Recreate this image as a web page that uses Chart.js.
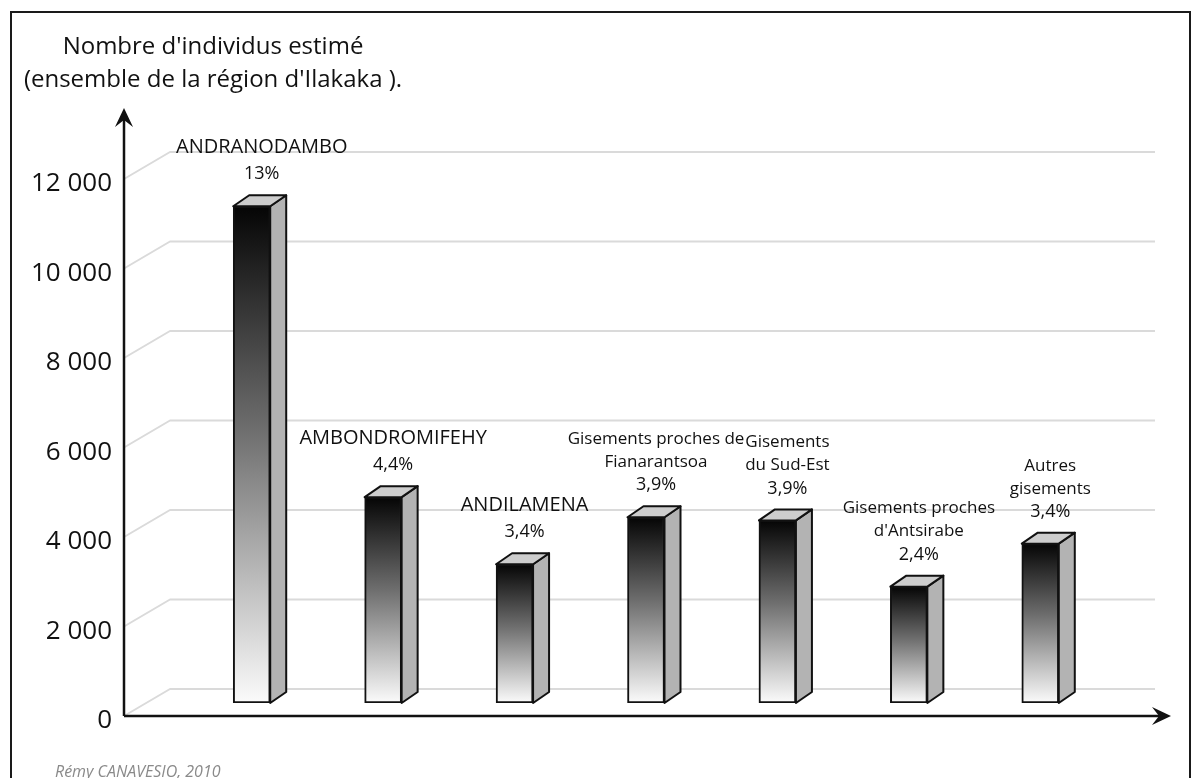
<!DOCTYPE html>
<html><head><meta charset="utf-8">
<script src="https://cdn.jsdelivr.net/npm/chart.js@4.4.1/dist/chart.umd.min.js"></script>
<style>html,body{margin:0;padding:0;background:#fff;overflow:hidden}#wrap{position:absolute;left:0;top:0;width:1200px;height:778px}</style>
</head><body><div id="wrap"><canvas id="c" width="1200" height="778"></canvas></div>
<script>
// ---- data ----
const categories = [["ANDRANODAMBO"],["AMBONDROMIFEHY"],["ANDILAMENA"],["Gisements proches de","Fianarantsoa"],["Gisements","du Sud-Est"],["Gisements proches","d'Antsirabe"],["Autres","gisements"]];
const individuals = [11100, 4600, 3100, 4150, 4080, 2600, 3560];
const shares = ["13%","4,4%","3,4%","3,9%","3,9%","2,4%","3,4%"];
const yTicks = [0, 2000, 4000, 6000, 8000, 10000, 12000];
const yTitle = ["Nombre d'individus estimé", "(ensemble de la région d'Ilakaka )."];
const credit = "Rémy CANAVESIO, 2010";

// ---- style constants ----
const FONT = "'Open Sans', 'Noto Sans', sans-serif";
const INK = '#111';
const GRID = '#dadada';
const BAR_DEPTH = {dx: 16, dy: -11};
const FRONT_DROP = 13;          // front (axis) plane below bar plane
const WALL = {dx: 46, dy: -27}; // back wall relative to front plane

function fmt(v){ return String(v).replace(/\B(?=(\d{3})+(?!\d))/g, ' '); }

function arrowHead(ctx, x, y, dir){
  ctx.save(); ctx.translate(x, y); ctx.rotate(dir);
  ctx.beginPath();
  ctx.moveTo(0, 0); ctx.lineTo(-19, -9); ctx.lineTo(-12, 0); ctx.lineTo(-19, 9); ctx.closePath();
  ctx.fillStyle = INK; ctx.fill(); ctx.restore();
}

const deco = {
  id: 'deco',
  beforeDatasetsDraw(chart){
    const ctx = chart.ctx, ca = chart.chartArea, ys = chart.scales.y;
    const axisX = ca.left - 62;
    const gridRight = ca.right + 49;
    ctx.save();
    // frame
    ctx.strokeStyle = '#1a1a1a'; ctx.lineWidth = 2;
    ctx.strokeRect(11, 12, 1179, 820);
    // back-wall grid lines
    ctx.strokeStyle = GRID; ctx.lineWidth = 2; ctx.lineJoin = 'round';
    yTicks.forEach(v => {
      const yf = ys.getPixelForValue(v) + FRONT_DROP;
      ctx.beginPath();
      ctx.moveTo(axisX, yf);
      ctx.lineTo(axisX + WALL.dx, yf + WALL.dy);
      ctx.lineTo(gridRight, yf + WALL.dy);
      ctx.stroke();
    });
    // axes
    const y0 = ys.getPixelForValue(0) + FRONT_DROP;
    const yTip = ca.top - 58;
    const xTip = ca.right + 65;
    ctx.strokeStyle = INK; ctx.lineWidth = 2.5;
    ctx.beginPath(); ctx.moveTo(axisX, y0); ctx.lineTo(axisX, yTip + 10); ctx.stroke();
    ctx.beginPath(); ctx.moveTo(axisX, y0); ctx.lineTo(xTip - 10, y0); ctx.stroke();
    arrowHead(ctx, axisX, yTip, -Math.PI/2);
    arrowHead(ctx, xTip, y0, 0);
    // axis title
    ctx.fillStyle = INK; ctx.textAlign = 'center'; ctx.textBaseline = 'middle';
    ctx.font = '24px ' + FONT;
    ctx.fillText(yTitle[0], 213, 47);
    ctx.fillText(yTitle[1], 213, 80);
    // credit
    ctx.textAlign = 'left'; ctx.textBaseline = 'alphabetic';
    ctx.fillStyle = '#8a8a8a'; ctx.font = 'italic 16px ' + FONT;
    ctx.fillText(credit, 55, 777);
    ctx.restore();
  },
  afterDatasetsDraw(chart){
    const ctx = chart.ctx;
    const meta = chart.getDatasetMeta(0);
    ctx.save();
    meta.data.forEach((el, i) => {
      const {x, y, base, width} = el.getProps(['x','y','base','width'], true);
      const l = x - width/2, r = x + width/2;
      const {dx, dy} = BAR_DEPTH;
      ctx.lineWidth = 2; ctx.strokeStyle = INK; ctx.lineJoin = 'round';
      // side
      ctx.beginPath();
      ctx.moveTo(r, y); ctx.lineTo(r+dx, y+dy); ctx.lineTo(r+dx, base+dy); ctx.lineTo(r, base); ctx.closePath();
      ctx.fillStyle = '#b3b3b3'; ctx.fill(); ctx.stroke();
      // cap
      ctx.beginPath();
      ctx.moveTo(l, y); ctx.lineTo(l+dx, y+dy); ctx.lineTo(r+dx, y+dy); ctx.lineTo(r, y); ctx.closePath();
      ctx.fillStyle = '#cdcdcd'; ctx.fill(); ctx.stroke();
      // labels
      const cx = x + 10;
      const lines = categories[i];
      const upper = lines.join('') === lines.join('').toUpperCase();
      ctx.fillStyle = INK; ctx.textAlign = 'center'; ctx.textBaseline = 'middle';
      let cy = y - 32;
      ctx.font = '18px ' + FONT;
      ctx.fillText(shares[i], cx, cy);
      const step = upper ? 27 : 23;
      ctx.font = (upper ? '20px ' : '17px ') + FONT;
      for (let k = lines.length - 1; k >= 0; k--) {
        cy -= step;
        ctx.fillText(lines[k], cx, cy);
      }
    });
    ctx.restore();
  }
};

new Chart(document.getElementById('c'), {
  type: 'bar',
  data: {
    labels: categories,
    datasets: [{
      data: individuals,
      barThickness: 37,
      borderWidth: 2,
      borderColor: INK,
      borderSkipped: false,
      backgroundColor: (c) => {
        const chart = c.chart;
        if (!chart.chartArea || c.type !== 'data') return '#777';
        const ys = chart.scales.y;
        const top = ys.getPixelForValue(c.raw), bot = ys.getPixelForValue(0);
        const g = chart.ctx.createLinearGradient(0, top, 0, bot);
        g.addColorStop(0, '#050505');
        g.addColorStop(0.45, '#6e6e6e');
        g.addColorStop(0.8, '#c8c8c8');
        g.addColorStop(1, '#fbfbfb');
        return g;
      }
    }]
  },
  options: {
    responsive: false,
    animation: false,
    layout: {padding: {top: 166, bottom: 75, left: 0, right: 94}},
    plugins: {legend: {display: false}, tooltip: {enabled: false}, title: {display: false}},
    scales: {
      x: {display: false, grid: {display: false}},
      y: {
        min: 0, max: 12000,
        afterFit: (s) => { s.width = 186; s.paddingTop = 0; s.paddingBottom = 0; },
        grid: {display: false, drawTicks: false},
        border: {display: false},
        afterBuildTicks: (s) => { s.ticks = yTicks.map(v => ({value: v})); },
        ticks: {
          padding: 74,
          labelOffset: 18,
          color: INK,
          font: {family: FONT, size: 26},
          callback: (v) => fmt(v)
        }
      }
    }
  },
  plugins: [deco]
});
</script>
</body></html>
